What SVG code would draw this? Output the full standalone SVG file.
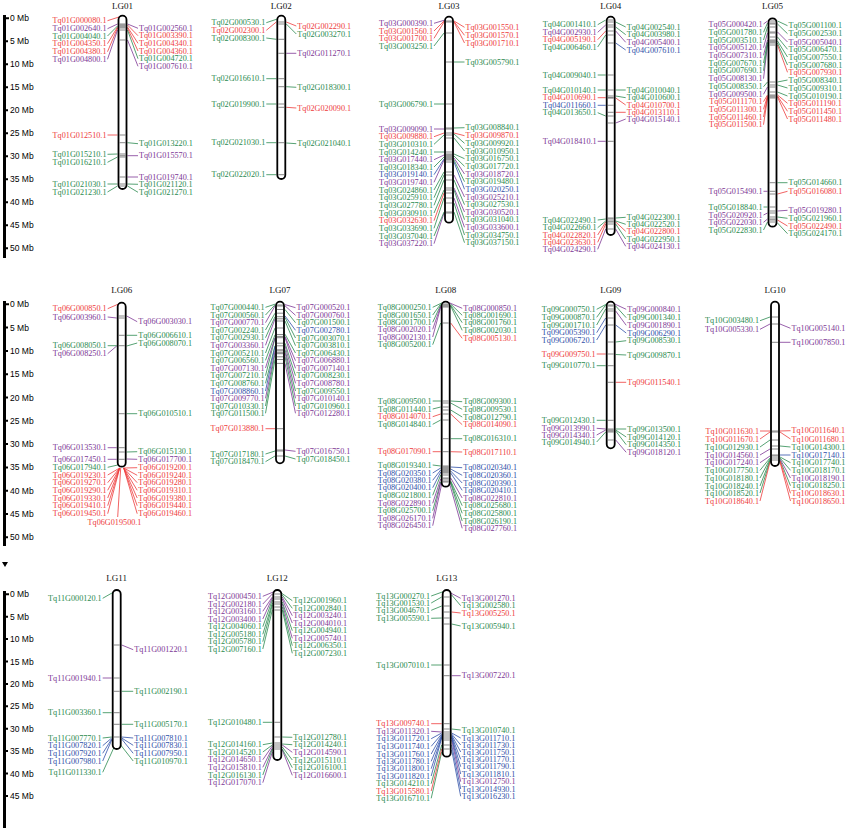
<svg xmlns="http://www.w3.org/2000/svg" width="850" height="828" viewBox="0 0 850 828">
<style>
.t{font-family:"Liberation Serif","Times New Roman",serif;font-size:9px;text-anchor:middle;fill:#111}
.lb text{font-family:"Liberation Serif","Times New Roman",serif;font-size:8.2px;dominant-baseline:central}
.lf{text-anchor:end}
.c{text-anchor:middle}
text.R{fill:#ee3b3b}text.G{fill:#2b8a4f}text.P{fill:#7d3795}text.B{fill:#3050a8}
#connectors path{fill:none;stroke-width:0.8}
#connectors .R{stroke:#ee3b3b}#connectors .G{stroke:#2b8a4f}#connectors .P{stroke:#7d3795}#connectors .B{stroke:#3050a8}
.chr{fill:#fff;stroke:#000;stroke-width:1.8}
.tk{stroke:#555;stroke-width:0.7;fill:none}
.ax{font-family:"Liberation Sans",Arial,sans-serif;font-size:8.5px;dominant-baseline:central;fill:#000}
.axl{fill:#000}
.axt{stroke:#000;stroke-width:2;fill:none}
</style>
<rect width="850" height="828" fill="#fff"/>

<g id="axis1">
<rect class="axl" x="3" y="15" width="3" height="243"/>
<path class="axt" d="M6 18.3h3M6 41.3h2M6 64.3h2M6 87.3h2M6 110.3h2M6 133.3h2M6 156.3h2M6 179.3h2M6 202.3h2M6 225.3h2M6 248.3h2"/>
<text class="ax" x="10" y="18.3">0 Mb</text><text class="ax" x="10" y="41.3">5 Mb</text><text class="ax" x="10" y="64.3">10 Mb</text><text class="ax" x="10" y="87.3">15 Mb</text><text class="ax" x="10" y="110.3">20 Mb</text><text class="ax" x="10" y="133.3">25 Mb</text><text class="ax" x="10" y="156.3">30 Mb</text><text class="ax" x="10" y="179.3">35 Mb</text><text class="ax" x="10" y="202.3">40 Mb</text><text class="ax" x="10" y="225.3">45 Mb</text><text class="ax" x="10" y="248.3">50 Mb</text>
</g>
<g id="axis2">
<rect class="axl" x="3" y="301" width="3" height="245"/>
<path class="axt" d="M6 304.3h3M6 327.6h2M6 350.9h2M6 374.2h2M6 397.5h2M6 420.8h2M6 444.1h2M6 467.4h2M6 490.7h2M6 514h2M6 537.3h2"/>
<polygon class="axl" points="2,562 8,562 5,567"/>
<text class="ax" x="10" y="304.3">0 Mb</text><text class="ax" x="10" y="327.6">5 Mb</text><text class="ax" x="10" y="350.9">10 Mb</text><text class="ax" x="10" y="374.2">15 Mb</text><text class="ax" x="10" y="397.5">20 Mb</text><text class="ax" x="10" y="420.8">25 Mb</text><text class="ax" x="10" y="444.1">30 Mb</text><text class="ax" x="10" y="467.4">35 Mb</text><text class="ax" x="10" y="490.7">40 Mb</text><text class="ax" x="10" y="514">45 Mb</text><text class="ax" x="10" y="537.3">50 Mb</text>
</g>
<g id="axis3">
<rect class="axl" x="3" y="591" width="3" height="237"/>
<path class="axt" d="M6 594.3h3M6 616.7h2M6 639.1h2M6 661.5h2M6 683.9h2M6 706.3h2M6 728.7h2M6 751.1h2M6 773.5h2M6 795.9h2"/>
<text class="ax" x="10" y="594.3">0 Mb</text><text class="ax" x="10" y="616.7">5 Mb</text><text class="ax" x="10" y="639.1">10 Mb</text><text class="ax" x="10" y="661.5">15 Mb</text><text class="ax" x="10" y="683.9">20 Mb</text><text class="ax" x="10" y="706.3">25 Mb</text><text class="ax" x="10" y="728.7">30 Mb</text><text class="ax" x="10" y="751.1">35 Mb</text><text class="ax" x="10" y="773.5">40 Mb</text><text class="ax" x="10" y="795.9">45 Mb</text>
</g>

<g id="connectors">
<g transform="translate(122.5 0)">
<path class="R" d="M-15 20.7L-2 16.5M-15 43.7L-5 27M-15 51.7L-5 28M-15 135L-5 135M5 25L15.5 35.7M5 27L15.5 43.3M5 28L15.5 51"/>
<path class="P" d="M-15 28.7L-5 24M-15 59.3L-5 30M5 24L15.5 28.3M5 40L15.5 66.3M5 155.7L15.5 155.7M5 177L15.5 177"/>
<path class="G" d="M-15 36L-5 26M-15 154.3L-5 154M-15 162.3L-5 157M-15 184L-5 184M-15 192L-5 186M5 30L15.5 58.7M5 142.7L15.5 143.7M5 184L15.5 184.3M5 186L15.5 192.3"/>
</g>
<g transform="translate(281.3 0)">
<path class="G" d="M-15 22.7L-4 19M-15 38L-5 39.3M-15 78.7L-5 78.7M-15 104L-5 104M-15 142.7L-5 142.7M-15 174.7L-5 174.7M5 24L15 34M5 86.7L15 87.3M5 143L15 143.7"/>
<path class="R" d="M-15 30.3L-5 22M5 22L15 26M5 107.3L15 108"/>
<path class="P" d="M5 53.3L15 53.3"/>
</g>
<g transform="translate(449 0)">
<path class="P" d="M-15 23.3L-4 20M-15 129L-5 129M-15 159.7L-5 155M-15 182.3L-5 160M-15 243.7L-5 213M5 158L15.5 174M5 175L15.5 197M5 188L15.5 212M5 198L15.5 227.3"/>
<path class="R" d="M-15 31L-5 21M-15 38.3L-5 22M-15 136.7L-5 133M-15 220.7L-5 193M5 21L15.5 27.3M5 21.5L15.5 35.3M5 22L15.5 43M5 133L15.5 135.7"/>
<path class="G" d="M-15 46L-5 33M-15 104L-5 104M-15 144.3L-5 135M-15 152L-5 152M-15 167L-5 157M-15 190L-5 172M-15 197.7L-5 175M-15 205.3L-5 180M-15 213L-5 190M-15 228.3L-5 198M-15 236L-5 212M5 62L15.5 62M5 128L15.5 127.7M5 134L15.5 143.3M5 138L15.5 151M5 154L15.5 158.7M5 156L15.5 166.3M5 160L15.5 181.7M5 180L15.5 204.7M5 190L15.5 219.7M5 203L15.5 235M5 212L15.5 242.7"/>
<path class="B" d="M-15 174.7L-5 159M5 162L15.5 189.3"/>
</g>
<g transform="translate(610.7 0)">
<path class="G" d="M-13 24.7L-5 20M-13 47L-5 35M-13 75L-5 75M-13 90L-5 90M-13 112.7L-5 116M-13 220L-5 219M-13 227.7L-5 221M5 22L15 27M5 27L15 34.7M5 90L15 90M5 96L15 97.7M5 218L15 217.3M5 221L15 224.3M5 224L15 239"/>
<path class="P" d="M-13 32.3L-5 25M-13 141.3L-5 141.3M-13 249.3L-5 229M5 31L15 42.3M5 123L15 119M5 229L15 246.3"/>
<path class="R" d="M-13 39.7L-5 31M-13 97.7L-5 97.7M-13 235L-5 222M-13 242.3L-5 224M5 98L15 105M5 112.3L15 112.3M5 222L15 231.3"/>
<path class="B" d="M-13 105.3L-5 105.3M5 43L15 50"/>
</g>
<g transform="translate(772.5 0)">
<path class="P" d="M-9 24L-5 21M-9 47.7L-5 33M-9 55.3L-5 40M-9 78.7L-5 45M-9 94.3L-5 87M-9 191.3L-5 191.3M-9 215L-5 213M-9 222.3L-5 219M5 32L15 42M5 211L15 210.3"/>
<path class="G" d="M-9 32.3L-5 23M-9 40L-5 27M-9 63L-5 42M-9 70.7L-5 43M-9 86.7L-5 82M-9 207L-5 207M-9 230L-5 222M5 21L15 25.7M5 24L15 33.7M5 37L15 49.3M5 41L15 57M5 43L15 65M5 82L15 80M5 85L15 88M5 92L15 96M5 182.7L15 182.7M5 217L15 218.3M5 223L15 233.7"/>
<path class="R" d="M-9 101.7L-5 95M-9 109.3L-5 96M-9 117L-5 97M-9 124.7L-5 98M5 45L15 72.3M5 95L15 103.3M5 96L15 111.3M5 97L15 119M5 194L15 191.3M5 220L15 226"/>
</g>
<g transform="translate(121.7 0)">
<path class="R" d="M-14 308.7L-2 303.5M-14 475L-2 468M-14 482.7L-2 468M-14 490.3L-2 468M-14 498L-2 468M-14 505.7L-2 468M-14 513.7L-2 468M-1 468L-4 517M2 468L15.5 467.7M2 468L15.5 475.3M2 468L15.5 482.7M2 468L15.5 490.3M2 468L15.5 498M2 468L15.5 505.7M2 468L15.5 513.7"/>
<path class="P" d="M-14 317L-5 318M-14 353.7L-5 346M-14 447.7L-5 447.7M-14 459.3L-5 459.3M5 316L15.5 321.7M5 459L15.5 459.3"/>
<path class="G" d="M-14 345.7L-5 345.7M-14 467.3L-4 465M5 335.3L15.5 335.3M5 346L15.5 343M5 413.7L15.5 413.7M5 452L15.5 451.7"/>
</g>
<g transform="translate(280 0)">
<path class="G" d="M-14.5 307.3L-5 304.2M-14.5 315L-5 304.8M-14.5 330L-5 313.2M-14.5 337.7L-5 316.7M-14.5 353L-5 328M-14.5 360.3L-5 334.8M-14.5 375.7L-5 338M-14.5 383.3L-5 345.8M-14.5 406L-5 353.7M-14.5 413.3L-5 359.5M-14.5 454L-5 451M-14.5 461.7L-5 456M5 309.5L15.5 322.7M5 317.4L15.5 338M5 321L15.5 345.7M5 334.2L15.5 353M5 343.2L15.5 375.7M5 349.8L15.5 391M5 356.8L15.5 406M5 456L15.5 459"/>
<path class="P" d="M-14.5 322.7L-5 305.9M-14.5 345.3L-5 318.8M-14.5 368L-5 337.7M-14.5 398.3L-5 350.9M5 304.6L15.5 307.7M5 305.8L15.5 315.3M5 336.4L15.5 360.7M5 337.7L15.5 368.3M5 345.9L15.5 383.3M5 352.7L15.5 398.3M5 363.4L15.5 413.3M5 450L15.5 451.3"/>
<path class="B" d="M-14.5 391L-5 346.3M5 315.9L15.5 330.3"/>
<path class="R" d="M-14.5 428.7L-5 428.7"/>
</g>
<g transform="translate(445.7 0)">
<path class="G" d="M-13 307.3L-3 302.5M-13 315L-5 304M-13 322.3L-5 305M-13 344.7L-5 323M-13 401L-5 401M-13 409L-5 407M-13 424.3L-5 420M-13 465L-5 466M-13 495.3L-5 475M-13 510.7L-5 482M5 304L16.5 315.3M5 305L16.5 322.7M5 306L16.5 330.3M5 401L16.5 401.7M5 403L16.5 409.3M5 410L16.5 417M5 438.7L16.5 438.7M5 481L16.5 505.7M5 482L16.5 513.3M5 483L16.5 521"/>
<path class="P" d="M-13 329.3L-5 306M-13 337L-5 307M-13 503.3L-5 479M-13 518.3L-5 483M-13 525.7L-4 484M3 302.5L16.5 308.3M5 478L16.5 498M4 484L16.5 528.3"/>
<path class="R" d="M-13 416.7L-5 414M-13 451.7L-5 451.7M5 323L16.5 338.3M5 414L16.5 424.7M5 451.7L16.5 452"/>
<path class="B" d="M-13 473L-5 468M-13 480.3L-5 470M-13 487.7L-5 472M5 467L16.5 467.7M5 469L16.5 475.3M5 471L16.5 483M5 473L16.5 490.3"/>
</g>
<g transform="translate(610.7 0)">
<path class="G" d="M-14 309.3L-4 304M-14 317.3L-5 305M-14 325L-5 309M-14 365.7L-5 365.7M-14 420.3L-5 420.3M-14 442L-5 432M5 306L15.5 317.7M5 342L15.5 340.7M5 354.5L15.5 355M5 429L15.5 429M5 430L15.5 437M5 431L15.5 444.7"/>
<path class="B" d="M-14 332.7L-5 318M-14 340L-5 325M5 325L15.5 333"/>
<path class="R" d="M-14 354L-5 354M5 382.3L15.5 382.3"/>
<path class="P" d="M-14 428.3L-5 429M-14 435L-5 430M4 304L15.5 309.3M5 311L15.5 325.3M5 440L15.5 452.3"/>
</g>
<g transform="translate(775 0)">
<path class="G" d="M-15 320.7L-5 317M-15 447L-5 440M-15 470.3L-5 458M-15 478L-5 459M-15 486L-5 460M-15 493L-5 461M5 446L15.5 447M5 457L15.5 462.7M5 458L15.5 470.3M5 460L15.5 485.7"/>
<path class="P" d="M-15 329.3L-5 324M-15 455L-5 449M-15 462.7L-5 456M5 324L15.5 328.3M5 342.3L15.5 342.3M5 459L15.5 478"/>
<path class="R" d="M-15 431L-5 431M-15 439L-5 432M-15 501L-5 462M5 431L15.5 430.7M5 432L15.5 439M5 461L15.5 493.3M5 462L15.5 501"/>
<path class="B" d="M5 455L15.5 455"/>
</g>
<g transform="translate(116.7 0)">
<path class="G" d="M-14 598.3L-3 592M-14 712.7L-5 712.7M-14 738L-5 737M-14 772.3L-3 748M5 691.3L16.5 691.3M5 724.3L16.5 724.3M4 745L16.5 761"/>
<path class="P" d="M-14 678L-5 678M5 645L16.5 649.7"/>
<path class="B" d="M-14 745.7L-5 738M-14 753.3L-5 739M-14 761L-5 740M5 737L16.5 738M5 738L16.5 745.3M5 739L16.5 753.3"/>
</g>
<g transform="translate(277.3 0)">
<path class="P" d="M-14.5 596.3L-4 592M-14.5 604L-5 594M-14.5 611.3L-5 597M-14.5 619L-5 598M-14.5 759.7L-5 746M-14.5 767.3L-5 748M-14.5 782.7L-5 752M5 597L15 615.7M5 599L15 623M5 604L15 638.3M5 745L15 752.3M5 750L15 775.3"/>
<path class="G" d="M-14.5 626.7L-5 600M-14.5 634.3L-5 603M-14.5 641.7L-5 605M-14.5 649L-5 610M-14.5 722.3L-5 722.3M-14.5 744.7L-5 743M-14.5 752L-5 745M-14.5 775L-5 749M4 593L15 600.7M5 595L15 608.3M5 602L15 630.7M5 607L15 645.7M5 610L15 653.3M5 737L15 737.3M5 744L15 744.7M5 747L15 760M5 749L15 767.7"/>
</g>
<g transform="translate(446.7 0)">
<path class="G" d="M-15.5 596L-3 591.5M-15.5 603L-5 597M-15.5 610.3L-5 606M-15.5 618.3L-5 618M-15.5 665L-5 665M-15.5 783.7L-5 745M-15.5 798.3L-5 752M5 595L14 605.7M5 624L14 626M5 729L14 730"/>
<path class="R" d="M-15.5 723.7L-5 723.7M-15.5 791L-5 749M5 612L14 613"/>
<path class="P" d="M-15.5 731.3L-5 732M4 593L14 598.3M5 675.7L14 675.7M5 740L14 781.7"/>
<path class="B" d="M-15.5 738.7L-5 733M-15.5 746.3L-5 734M-15.5 754L-5 735M-15.5 761.3L-5 736M-15.5 768.7L-5 737M-15.5 776L-5 738M5 733L14 738M5 734L14 745M5 735L14 752M5 736L14 759.3M5 737L14 766.7M5 738L14 774M5 745L14 789M5 750L14 796.3"/>
</g>
</g>

<g id="LG01" transform="translate(122.5 0)">
<text class="t" y="9">LG01</text>
<rect class="chr" x="-4" y="15.7" width="8" height="173.3" rx="4"/>
<path class="tk" d="M-3 24h6M-3 25h6M-3 26h6M-3 27h6M-3 28h6M-3 30h6M-3 40h6M-3 135h6M-3 142.7h6M-3 154h6M-3 155.7h6M-3 157h6M-3 177h6M-3 184h6M-3 186h6"/>
<g class="lb lf" transform="translate(-16 0)">
<text class="R" y="20.7">Tq01G000080.1</text><text class="P" y="28.7">Tq01G002640.1</text><text class="G" y="36">Tq01G004040.1</text><text class="R" y="43.7">Tq01G004350.1</text><text class="R" y="51.7">Tq01G004380.1</text><text class="P" y="59.3">Tq01G004800.1</text><text class="R" y="135">Tq01G012510.1</text><text class="G" y="154.3">Tq01G015210.1</text><text class="G" y="162.3">Tq01G016210.1</text><text class="G" y="184">Tq01G021030.1</text><text class="G" y="192">Tq01G021230.1</text>
</g>
<g class="lb" transform="translate(16.5 0)">
<text class="P" y="28.3">Tq01G002560.1</text><text class="R" y="35.7">Tq01G003390.1</text><text class="R" y="43.3">Tq01G004340.1</text><text class="R" y="51">Tq01G004360.1</text><text class="G" y="58.7">Tq01G004720.1</text><text class="P" y="66.3">Tq01G007610.1</text><text class="G" y="143.7">Tq01G013220.1</text><text class="P" y="155.7">Tq01G015570.1</text><text class="P" y="177">Tq01G019740.1</text><text class="G" y="184.3">Tq01G021120.1</text><text class="G" y="192.3">Tq01G021270.1</text>
</g>
</g>

<g id="LG02" transform="translate(281.3 0)">
<text class="t" y="9">LG02</text>
<rect class="chr" x="-4" y="15.7" width="8" height="163.3" rx="4"/>
<path class="tk" d="M-3 22h6M-3 24h6M-3 39.3h6M-3 53.3h6M-3 78.7h6M-3 86.7h6M-3 104h6M-3 107.3h6M-3 142.7h6M-3 174.7h6"/>
<g class="lb lf" transform="translate(-16 0)">
<text class="G" y="22.7">Tq02G000530.1</text><text class="R" y="30.3">Tq02G002300.1</text><text class="G" y="38">Tq02G008300.1</text><text class="G" y="78.7">Tq02G016610.1</text><text class="G" y="104">Tq02G019900.1</text><text class="G" y="142.7">Tq02G021030.1</text><text class="G" y="174.7">Tq02G022020.1</text>
</g>
<g class="lb" transform="translate(16 0)">
<text class="R" y="26">Tq02G002290.1</text><text class="G" y="34">Tq02G003270.1</text><text class="P" y="53.3">Tq02G011270.1</text><text class="G" y="87.3">Tq02G018300.1</text><text class="R" y="108">Tq02G020090.1</text><text class="G" y="143.7">Tq02G021040.1</text>
</g>
</g>

<g id="LG03" transform="translate(449 0)">
<text class="t" y="9">LG03</text>
<rect class="chr" x="-4" y="16.7" width="8" height="206" rx="4"/>
<path class="tk" d="M-3 21h6M-3 22h6M-3 33h6M-3 62h6M-3 104h6M-3 128h6M-3 129h6M-3 133h6M-3 135h6M-3 138h6M-3 152h6M-3 154h6M-3 155h6M-3 156h6M-3 157h6M-3 158h6M-3 159h6M-3 160h6M-3 162h6M-3 172h6M-3 175h6M-3 180h6M-3 188h6M-3 190h6M-3 193h6M-3 198h6M-3 203h6M-3 212h6M-3 213h6"/>
<g class="lb lf" transform="translate(-16 0)">
<text class="P" y="23.3">Tq03G000390.1</text><text class="R" y="31">Tq03G001560.1</text><text class="R" y="38.3">Tq03G001700.1</text><text class="G" y="46">Tq03G003250.1</text><text class="G" y="104">Tq03G006790.1</text><text class="P" y="129">Tq03G009090.1</text><text class="R" y="136.7">Tq03G009880.1</text><text class="G" y="144.3">Tq03G010310.1</text><text class="G" y="152">Tq03G014240.1</text><text class="P" y="159.7">Tq03G017440.1</text><text class="G" y="167">Tq03G018340.1</text><text class="B" y="174.7">Tq03G019140.1</text><text class="P" y="182.3">Tq03G019740.1</text><text class="G" y="190">Tq03G024860.1</text><text class="G" y="197.7">Tq03G025910.1</text><text class="G" y="205.3">Tq03G027780.1</text><text class="G" y="213">Tq03G030910.1</text><text class="R" y="220.7">Tq03G032630.1</text><text class="G" y="228.3">Tq03G033690.1</text><text class="G" y="236">Tq03G037040.1</text><text class="P" y="243.7">Tq03G037220.1</text>
</g>
<g class="lb" transform="translate(16.5 0)">
<text class="R" y="27.3">Tq03G001550.1</text><text class="R" y="35.3">Tq03G001570.1</text><text class="R" y="43">Tq03G001710.1</text><text class="G" y="62">Tq03G005790.1</text><text class="G" y="127.7">Tq03G008840.1</text><text class="R" y="135.7">Tq03G009870.1</text><text class="G" y="143.3">Tq03G009920.1</text><text class="G" y="151">Tq03G010950.1</text><text class="G" y="158.7">Tq03G016750.1</text><text class="G" y="166.3">Tq03G017720.1</text><text class="P" y="174">Tq03G018720.1</text><text class="G" y="181.7">Tq03G019480.1</text><text class="B" y="189.3">Tq03G020250.1</text><text class="P" y="197">Tq03G025210.1</text><text class="G" y="204.7">Tq03G027530.1</text><text class="P" y="212">Tq03G030520.1</text><text class="G" y="219.7">Tq03G031040.1</text><text class="P" y="227.3">Tq03G033600.1</text><text class="G" y="235">Tq03G034750.1</text><text class="G" y="242.7">Tq03G037150.1</text>
</g>
</g>

<g id="LG04" transform="translate(610.7 0)">
<text class="t" y="9">LG04</text>
<rect class="chr" x="-4" y="16.7" width="8" height="218.3" rx="4"/>
<path class="tk" d="M-3 20h6M-3 22h6M-3 25h6M-3 27h6M-3 31h6M-3 35h6M-3 43h6M-3 75h6M-3 90h6M-3 96h6M-3 97.7h6M-3 98h6M-3 105.3h6M-3 112.3h6M-3 116h6M-3 123h6M-3 141.3h6M-3 218h6M-3 219h6M-3 221h6M-3 222h6M-3 224h6M-3 229h6"/>
<g class="lb lf" transform="translate(-14 0)">
<text class="G" y="24.7">Tq04G001410.1</text><text class="P" y="32.3">Tq04G002930.1</text><text class="R" y="39.7">Tq04G005190.1</text><text class="G" y="47">Tq04G006460.1</text><text class="G" y="75">Tq04G009040.1</text><text class="G" y="90">Tq04G010140.1</text><text class="R" y="97.7">Tq04G010690.1</text><text class="B" y="105.3">Tq04G011660.1</text><text class="G" y="112.7">Tq04G013650.1</text><text class="P" y="141.3">Tq04G018410.1</text><text class="G" y="220">Tq04G022490.1</text><text class="G" y="227.7">Tq04G022660.1</text><text class="R" y="235">Tq04G022820.1</text><text class="R" y="242.3">Tq04G023630.1</text><text class="P" y="249.3">Tq04G024290.1</text>
</g>
<g class="lb" transform="translate(16 0)">
<text class="G" y="27">Tq04G002540.1</text><text class="G" y="34.7">Tq04G003980.1</text><text class="P" y="42.3">Tq04G005400.1</text><text class="B" y="50">Tq04G007610.1</text><text class="G" y="90">Tq04G010040.1</text><text class="G" y="97.7">Tq04G010600.1</text><text class="R" y="105">Tq04G010700.1</text><text class="R" y="112.3">Tq04G013110.1</text><text class="P" y="119">Tq04G015140.1</text><text class="G" y="217.3">Tq04G022300.1</text><text class="G" y="224.3">Tq04G022520.1</text><text class="R" y="231.3">Tq04G022800.1</text><text class="G" y="239">Tq04G022950.1</text><text class="P" y="246.3">Tq04G024130.1</text>
</g>
</g>

<g id="LG05" transform="translate(772.5 0)">
<text class="t" y="9">LG05</text>
<rect class="chr" x="-4" y="18.3" width="8" height="208.4" rx="4"/>
<path class="tk" d="M-3 21h6M-3 23h6M-3 24h6M-3 27h6M-3 32h6M-3 33h6M-3 37h6M-3 40h6M-3 41h6M-3 42h6M-3 43h6M-3 45h6M-3 82h6M-3 85h6M-3 87h6M-3 92h6M-3 95h6M-3 96h6M-3 97h6M-3 98h6M-3 182.7h6M-3 191.3h6M-3 194h6M-3 207h6M-3 211h6M-3 213h6M-3 217h6M-3 219h6M-3 220h6M-3 222h6"/>
<g class="lb lf" transform="translate(-10 0)">
<text class="P" y="24">Tq05G000420.1</text><text class="G" y="32.3">Tq05G001780.1</text><text class="G" y="40">Tq05G003510.1</text><text class="P" y="47.7">Tq05G005120.1</text><text class="P" y="55.3">Tq05G007310.1</text><text class="G" y="63">Tq05G007670.1</text><text class="G" y="70.7">Tq05G007690.1</text><text class="P" y="78.7">Tq05G008130.1</text><text class="G" y="86.7">Tq05G008350.1</text><text class="P" y="94.3">Tq05G009500.1</text><text class="R" y="101.7">Tq05G011170.1</text><text class="R" y="109.3">Tq05G011300.1</text><text class="R" y="117">Tq05G011460.1</text><text class="R" y="124.7">Tq05G011500.1</text><text class="P" y="191.3">Tq05G015490.1</text><text class="G" y="207">Tq05G018840.1</text><text class="P" y="215">Tq05G020920.1</text><text class="P" y="222.3">Tq05G022030.1</text><text class="G" y="230">Tq05G022830.1</text>
</g>
<g class="lb" transform="translate(16 0)">
<text class="G" y="25.7">Tq05G001100.1</text><text class="G" y="33.7">Tq05G002530.1</text><text class="P" y="42">Tq05G005040.1</text><text class="G" y="49.3">Tq05G006470.1</text><text class="G" y="57">Tq05G007550.1</text><text class="G" y="65">Tq05G007680.1</text><text class="R" y="72.3">Tq05G007930.1</text><text class="G" y="80">Tq05G008340.1</text><text class="G" y="88">Tq05G009310.1</text><text class="G" y="96">Tq05G010190.1</text><text class="R" y="103.3">Tq05G011190.1</text><text class="R" y="111.3">Tq05G011450.1</text><text class="R" y="119">Tq05G011480.1</text><text class="G" y="182.7">Tq05G014660.1</text><text class="R" y="191.3">Tq05G016080.1</text><text class="P" y="210.3">Tq05G019280.1</text><text class="G" y="218.3">Tq05G021960.1</text><text class="R" y="226">Tq05G022490.1</text><text class="G" y="233.7">Tq05G024170.1</text>
</g>
</g>

<g id="LG06" transform="translate(121.7 0)">
<text class="t" y="293">LG06</text>
<rect class="chr" x="-4" y="302.7" width="8" height="164" rx="4"/>
<path class="tk" d="M-3 316h6M-3 318h6M-3 335.3h6M-3 345.7h6M-3 413.7h6M-3 447.7h6M-3 452h6M-3 459.3h6"/>
<g class="lb lf" transform="translate(-15 0)">
<text class="R" y="308.7">Tq06G000850.1</text><text class="P" y="317">Tq06G003960.1</text><text class="G" y="345.7">Tq06G008050.1</text><text class="P" y="353.7">Tq06G008250.1</text><text class="P" y="447.7">Tq06G013530.1</text><text class="P" y="459.3">Tq06G017450.1</text><text class="G" y="467.3">Tq06G017940.1</text><text class="R" y="475">Tq06G019230.1</text><text class="R" y="482.7">Tq06G019270.1</text><text class="R" y="490.3">Tq06G019290.1</text><text class="R" y="498">Tq06G019330.1</text><text class="R" y="505.7">Tq06G019410.1</text><text class="R" y="513.7">Tq06G019450.1</text>
</g>
<g class="lb" transform="translate(16.5 0)">
<text class="P" y="321.7">Tq06G003030.1</text><text class="G" y="335.3">Tq06G006610.1</text><text class="G" y="343">Tq06G008070.1</text><text class="G" y="413.7">Tq06G010510.1</text><text class="G" y="451.7">Tq06G015130.1</text><text class="P" y="459.3">Tq06G017700.1</text><text class="R" y="467.7">Tq06G019200.1</text><text class="R" y="475.3">Tq06G019240.1</text><text class="R" y="482.7">Tq06G019280.1</text><text class="R" y="490.3">Tq06G019310.1</text><text class="R" y="498">Tq06G019380.1</text><text class="R" y="505.7">Tq06G019440.1</text><text class="R" y="513.7">Tq06G019460.1</text>
</g>
<g class="lb"><text class="R c" x="-7.2" y="522.3">Tq06G019500.1</text></g>
</g>

<g id="LG07" transform="translate(280 0)">
<text class="t" y="293">LG07</text>
<rect class="chr" x="-4" y="301.7" width="8" height="161.6" rx="4"/>
<path class="tk" d="M-3 305h6M-3 306h6M-3 309.5h6M-3 313.2h6M-3 316.7h6M-3 318.8h6M-3 321h6M-3 328h6M-3 334.5h6M-3 336.4h6M-3 337.7h6M-3 343.2h6M-3 345.8h6M-3 349.8h6M-3 350.9h6M-3 352.7h6M-3 353.7h6M-3 356.8h6M-3 359.5h6M-3 363.4h6M-3 428.7h6M-3 450h6M-3 451h6M-3 456h6"/>
<g class="lb lf" transform="translate(-15.5 0)">
<text class="G" y="307.3">Tq07G000440.1</text><text class="G" y="315">Tq07G000560.1</text><text class="P" y="322.7">Tq07G000770.1</text><text class="G" y="330">Tq07G002240.1</text><text class="G" y="337.7">Tq07G002930.1</text><text class="P" y="345.3">Tq07G003360.1</text><text class="G" y="353">Tq07G005210.1</text><text class="G" y="360.3">Tq07G006560.1</text><text class="P" y="368">Tq07G007130.1</text><text class="G" y="375.7">Tq07G007210.1</text><text class="G" y="383.3">Tq07G008760.1</text><text class="B" y="391">Tq07G008860.1</text><text class="P" y="398.3">Tq07G009770.1</text><text class="G" y="406">Tq07G010330.1</text><text class="G" y="413.3">Tq07G011500.1</text><text class="R" y="428.7">Tq07G013880.1</text><text class="G" y="454">Tq07G017180.1</text><text class="G" y="461.7">Tq07G018470.1</text>
</g>
<g class="lb" transform="translate(16.5 0)">
<text class="P" y="307.7">Tq07G000520.1</text><text class="P" y="315.3">Tq07G000760.1</text><text class="G" y="322.7">Tq07G001500.1</text><text class="B" y="330.3">Tq07G002780.1</text><text class="G" y="338">Tq07G003070.1</text><text class="G" y="345.7">Tq07G003810.1</text><text class="G" y="353">Tq07G006430.1</text><text class="P" y="360.7">Tq07G006880.1</text><text class="P" y="368.3">Tq07G007140.1</text><text class="G" y="375.7">Tq07G008230.1</text><text class="P" y="383.3">Tq07G008780.1</text><text class="G" y="391">Tq07G009550.1</text><text class="P" y="398.3">Tq07G010140.1</text><text class="G" y="406">Tq07G010960.1</text><text class="P" y="413.3">Tq07G012280.1</text><text class="P" y="451.3">Tq07G016750.1</text><text class="G" y="459">Tq07G018450.1</text>
</g>
</g>

<g id="LG08" transform="translate(445.7 0)">
<text class="t" y="293">LG08</text>
<rect class="chr" x="-4" y="301.7" width="8" height="185" rx="4"/>
<path class="tk" d="M-3 304h6M-3 305h6M-3 306h6M-3 307h6M-3 323h6M-3 401h6M-3 403h6M-3 407h6M-3 410h6M-3 414h6M-3 420h6M-3 438.7h6M-3 451.7h6M-3 466h6M-3 467h6M-3 468h6M-3 469h6M-3 470h6M-3 471h6M-3 472h6M-3 473h6M-3 475h6M-3 478h6M-3 479h6M-3 481h6M-3 482h6"/>
<g class="lb lf" transform="translate(-14 0)">
<text class="G" y="307.3">Tq08G000250.1</text><text class="G" y="315">Tq08G001650.1</text><text class="G" y="322.3">Tq08G001700.1</text><text class="P" y="329.3">Tq08G002020.1</text><text class="P" y="337">Tq08G002130.1</text><text class="G" y="344.7">Tq08G005200.1</text><text class="G" y="401">Tq08G009500.1</text><text class="G" y="409">Tq08G011440.1</text><text class="R" y="416.7">Tq08G014070.1</text><text class="G" y="424.3">Tq08G014840.1</text><text class="R" y="451.7">Tq08G017090.1</text><text class="G" y="465">Tq08G019340.1</text><text class="B" y="473">Tq08G020350.1</text><text class="B" y="480.3">Tq08G020380.1</text><text class="B" y="487.7">Tq08G020400.1</text><text class="G" y="495.3">Tq08G021800.1</text><text class="P" y="503.3">Tq08G022890.1</text><text class="G" y="510.7">Tq08G025700.1</text><text class="P" y="518.3">Tq08G026170.1</text><text class="P" y="525.7">Tq08G026450.1</text>
</g>
<g class="lb" transform="translate(17.5 0)">
<text class="P" y="308.3">Tq08G000850.1</text><text class="G" y="315.3">Tq08G001690.1</text><text class="G" y="322.7">Tq08G001760.1</text><text class="G" y="330.3">Tq08G002030.1</text><text class="R" y="338.3">Tq08G005130.1</text><text class="G" y="401.7">Tq08G009300.1</text><text class="G" y="409.3">Tq08G009530.1</text><text class="G" y="417">Tq08G012790.1</text><text class="R" y="424.7">Tq08G014090.1</text><text class="G" y="438.7">Tq08G016310.1</text><text class="R" y="452">Tq08G017110.1</text><text class="B" y="467.7">Tq08G020340.1</text><text class="B" y="475.3">Tq08G020360.1</text><text class="B" y="483">Tq08G020390.1</text><text class="B" y="490.3">Tq08G020410.1</text><text class="P" y="498">Tq08G022810.1</text><text class="G" y="505.7">Tq08G025680.1</text><text class="G" y="513.3">Tq08G025800.1</text><text class="G" y="521">Tq08G026190.1</text><text class="P" y="528.3">Tq08G027760.1</text>
</g>
</g>

<g id="LG09" transform="translate(610.7 0)">
<text class="t" y="293">LG09</text>
<rect class="chr" x="-4" y="301.7" width="8" height="146.6" rx="4"/>
<path class="tk" d="M-3 305h6M-3 306h6M-3 309h6M-3 311h6M-3 318h6M-3 325h6M-3 342h6M-3 354h6M-3 365.7h6M-3 382.3h6M-3 420.3h6M-3 429h6M-3 430h6M-3 431h6M-3 432h6M-3 440h6"/>
<g class="lb lf" transform="translate(-15 0)">
<text class="G" y="309.3">Tq09G000750.1</text><text class="G" y="317.3">Tq09G000870.1</text><text class="G" y="325">Tq09G001710.1</text><text class="B" y="332.7">Tq09G005390.1</text><text class="B" y="340">Tq09G006720.1</text><text class="R" y="354">Tq09G009750.1</text><text class="G" y="365.7">Tq09G010770.1</text><text class="G" y="420.3">Tq09G012430.1</text><text class="P" y="428.3">Tq09G013990.1</text><text class="P" y="435">Tq09G014340.1</text><text class="G" y="442">Tq09G014940.1</text>
</g>
<g class="lb" transform="translate(16.5 0)">
<text class="P" y="309.3">Tq09G000840.1</text><text class="G" y="317.7">Tq09G001340.1</text><text class="P" y="325.3">Tq09G001890.1</text><text class="B" y="333">Tq09G006290.1</text><text class="G" y="340.7">Tq09G008530.1</text><text class="G" y="355">Tq09G009870.1</text><text class="R" y="382.3">Tq09G011540.1</text><text class="G" y="429">Tq09G013500.1</text><text class="G" y="437">Tq09G014120.1</text><text class="G" y="444.7">Tq09G014350.1</text><text class="P" y="452.3">Tq09G018120.1</text>
</g>
</g>

<g id="LG10" transform="translate(775 0)">
<text class="t" y="293">LG10</text>
<rect class="chr" x="-4" y="301.7" width="8" height="164.3" rx="4"/>
<path class="tk" d="M-3 317h6M-3 324h6M-3 342.3h6M-3 431h6M-3 432h6M-3 440h6M-3 446h6M-3 449h6M-3 455h6M-3 456h6M-3 458h6M-3 460h6"/>
<g class="lb lf" transform="translate(-16 0)">
<text class="G" y="320.7">Tq10G003480.1</text><text class="P" y="329.3">Tq10G005330.1</text><text class="R" y="431">Tq10G011630.1</text><text class="R" y="439">Tq10G011670.1</text><text class="G" y="447">Tq10G012930.1</text><text class="P" y="455">Tq10G014560.1</text><text class="P" y="462.7">Tq10G017240.1</text><text class="G" y="470.3">Tq10G017750.1</text><text class="G" y="478">Tq10G018180.1</text><text class="G" y="486">Tq10G018240.1</text><text class="G" y="493">Tq10G018520.1</text><text class="R" y="501">Tq10G018640.1</text>
</g>
<g class="lb" transform="translate(16.5 0)">
<text class="P" y="328.3">Tq10G005140.1</text><text class="P" y="342.3">Tq10G007850.1</text><text class="R" y="430.7">Tq10G011640.1</text><text class="R" y="439">Tq10G011680.1</text><text class="G" y="447">Tq10G014300.1</text><text class="B" y="455">Tq10G017140.1</text><text class="G" y="462.7">Tq10G017740.1</text><text class="G" y="470.3">Tq10G018170.1</text><text class="P" y="478">Tq10G018190.1</text><text class="G" y="485.7">Tq10G018250.1</text><text class="R" y="493.3">Tq10G018630.1</text><text class="R" y="501">Tq10G018650.1</text>
</g>
</g>

<g id="LG11" transform="translate(116.7 0)">
<text class="t" y="581">LG11</text>
<rect class="chr" x="-4" y="590" width="8" height="159" rx="4"/>
<path class="tk" d="M-3 645h6M-3 678h6M-3 691.3h6M-3 712.7h6M-3 724.3h6M-3 737h6"/>
<g class="lb lf" transform="translate(-15 0)">
<text class="G" y="598.3">Tq11G000120.1</text><text class="P" y="678">Tq11G001940.1</text><text class="G" y="712.7">Tq11G003360.1</text><text class="G" y="738">Tq11G007770.1</text><text class="B" y="745.7">Tq11G007820.1</text><text class="B" y="753.3">Tq11G007920.1</text><text class="B" y="761">Tq11G007980.1</text><text class="G" y="772.3">Tq11G011330.1</text>
</g>
<g class="lb" transform="translate(17.5 0)">
<text class="P" y="649.7">Tq11G001220.1</text><text class="G" y="691.3">Tq11G002190.1</text><text class="G" y="724.3">Tq11G005170.1</text><text class="B" y="738">Tq11G007810.1</text><text class="B" y="745.3">Tq11G007830.1</text><text class="B" y="753.3">Tq11G007950.1</text><text class="G" y="761">Tq11G010970.1</text>
</g>
</g>

<g id="LG12" transform="translate(277.3 0)">
<text class="t" y="581">LG12</text>
<rect class="chr" x="-4" y="590" width="8" height="170" rx="4"/>
<path class="tk" d="M-3 594h6M-3 597h6M-3 599h6M-3 602h6M-3 604h6M-3 607h6M-3 610h6M-3 722.3h6M-3 737h6M-3 743h6M-3 745h6M-3 747h6M-3 749h6"/>
<g class="lb lf" transform="translate(-15.5 0)">
<text class="P" y="596.3">Tq12G000450.1</text><text class="P" y="604">Tq12G002180.1</text><text class="P" y="611.3">Tq12G003160.1</text><text class="P" y="619">Tq12G003400.1</text><text class="G" y="626.7">Tq12G004060.1</text><text class="G" y="634.3">Tq12G005180.1</text><text class="G" y="641.7">Tq12G005780.1</text><text class="G" y="649">Tq12G007160.1</text><text class="G" y="722.3">Tq12G010480.1</text><text class="G" y="744.7">Tq12G014160.1</text><text class="G" y="752">Tq12G014520.1</text><text class="P" y="759.7">Tq12G014650.1</text><text class="P" y="767.3">Tq12G015810.1</text><text class="G" y="775">Tq12G016130.1</text><text class="P" y="782.7">Tq12G017070.1</text>
</g>
<g class="lb" transform="translate(16 0)">
<text class="G" y="600.7">Tq12G001960.1</text><text class="G" y="608.3">Tq12G002840.1</text><text class="P" y="615.7">Tq12G003240.1</text><text class="P" y="623">Tq12G004010.1</text><text class="G" y="630.7">Tq12G004940.1</text><text class="P" y="638.3">Tq12G005740.1</text><text class="G" y="645.7">Tq12G006350.1</text><text class="G" y="653.3">Tq12G007230.1</text><text class="G" y="737.3">Tq12G012780.1</text><text class="G" y="744.7">Tq12G014240.1</text><text class="P" y="752.3">Tq12G014590.1</text><text class="G" y="760">Tq12G015110.1</text><text class="G" y="767.7">Tq12G016100.1</text><text class="P" y="775.3">Tq12G016600.1</text>
</g>
</g>

<g id="LG13" transform="translate(446.7 0)">
<text class="t" y="581">LG13</text>
<rect class="chr" x="-4" y="590" width="8" height="166.7" rx="4"/>
<path class="tk" d="M-3 597h6M-3 606h6M-3 612h6M-3 618h6M-3 624h6M-3 665h6M-3 675.7h6M-3 723.7h6M-3 729h6M-3 732h6M-3 734h6M-3 736h6M-3 738h6M-3 740h6M-3 745h6M-3 749h6"/>
<g class="lb lf" transform="translate(-16.5 0)">
<text class="G" y="596">Tq13G000270.1</text><text class="G" y="603">Tq13G001530.1</text><text class="G" y="610.3">Tq13G004670.1</text><text class="G" y="618.3">Tq13G005590.1</text><text class="G" y="665">Tq13G007010.1</text><text class="R" y="723.7">Tq13G009740.1</text><text class="P" y="731.3">Tq13G011320.1</text><text class="B" y="738.7">Tq13G011720.1</text><text class="B" y="746.3">Tq13G011740.1</text><text class="B" y="754">Tq13G011760.1</text><text class="B" y="761.3">Tq13G011780.1</text><text class="B" y="768.7">Tq13G011800.1</text><text class="B" y="776">Tq13G011820.1</text><text class="G" y="783.7">Tq13G014210.1</text><text class="R" y="791">Tq13G015580.1</text><text class="G" y="798.3">Tq13G016710.1</text>
</g>
<g class="lb" transform="translate(15 0)">
<text class="P" y="598.3">Tq13G001270.1</text><text class="G" y="605.7">Tq13G002580.1</text><text class="R" y="613">Tq13G005250.1</text><text class="G" y="626">Tq13G005940.1</text><text class="P" y="675.7">Tq13G007220.1</text><text class="G" y="730">Tq13G010740.1</text><text class="B" y="738">Tq13G011710.1</text><text class="B" y="745">Tq13G011730.1</text><text class="B" y="752">Tq13G011750.1</text><text class="B" y="759.3">Tq13G011770.1</text><text class="B" y="766.7">Tq13G011790.1</text><text class="B" y="774">Tq13G011810.1</text><text class="P" y="781.7">Tq13G012750.1</text><text class="B" y="789">Tq13G014930.1</text><text class="B" y="796.3">Tq13G016230.1</text>
</g>
</g>
</svg>
